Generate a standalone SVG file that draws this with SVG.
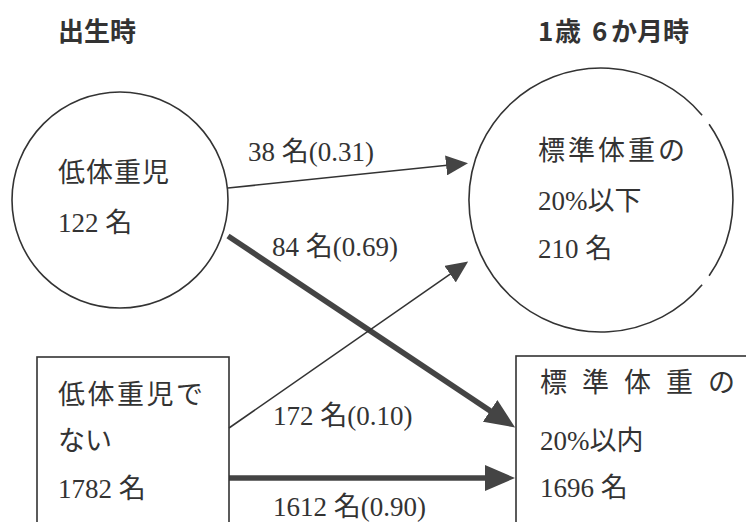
<svg xmlns="http://www.w3.org/2000/svg" width="746" height="522" viewBox="0 0 746 522">
<style>
.hd{font-family:"Noto Sans CJK JP","Noto Sans",sans-serif;font-weight:bold;font-size:26px;fill:#333}
.tx{font-family:"Liberation Serif","Noto Sans CJK JP",serif;font-size:27px;fill:#333}
.shape{fill:none;stroke:#333;stroke-width:1.6}
.thin{fill:none;stroke:#333;stroke-width:1.6}
.thick{fill:none;stroke:#444;stroke-width:5.5}
</style>
<defs>
<marker id="ah" markerUnits="userSpaceOnUse" viewBox="0 -10 22 20" markerWidth="22" markerHeight="20" refX="1" refY="0" orient="auto">
<path d="M0,-10 L22,0 L0,10 z" fill="#444"/>
</marker>
<marker id="ahT" markerUnits="userSpaceOnUse" viewBox="0 -13 30 26" markerWidth="30" markerHeight="26" refX="1" refY="0" orient="auto">
<path d="M0,-13 L30,0 L0,13 z" fill="#444"/>
</marker>
</defs>
<rect width="746" height="522" fill="#fff"/>
<g id="headers">
<text class="hd" x="58" y="41">出生時</text>
<text class="hd" y="41"><tspan x="538">1</tspan><tspan x="555">歳</tspan><tspan x="592">6</tspan><tspan x="611">か月時</tspan></text>
</g>
<g id="connectors">
<line class="thin" x1="228" y1="188" x2="447.1" y2="165.3" marker-end="url(#ah)"/>
<line class="thick" x1="228" y1="236" x2="491" y2="411.4" marker-end="url(#ahT)"/>
<line class="thin" x1="229" y1="428" x2="450.9" y2="273.6" marker-end="url(#ah)"/>
<line class="thick" x1="229" y1="478" x2="486" y2="478" marker-end="url(#ahT)"/>
<text class="tx" x="248" y="161">38 名(0.31)</text>
<text class="tx" x="272" y="256">84 名(0.69)</text>
<text class="tx" x="273" y="425">172 名(0.10)</text>
<text class="tx" x="273" y="516">1612 名(0.90)</text>
</g>
<g id="node-lbw">
<circle class="shape" cx="120" cy="200" r="108"/>
<text class="tx" x="58" y="182" letter-spacing="1">低体重児</text>
<text class="tx" x="58" y="232">122 名</text>
</g>
<g id="node-under20">
<path class="shape" d="M702.1,115.2 A132,132 0 1 0 702.1,284.8"/>
<path class="shape" d="M709.1,124.3 A132,132 0 0 1 709.1,275.7"/>
<text class="tx" y="160"><tspan x="538">標</tspan><tspan x="568">準</tspan><tspan x="598">体</tspan><tspan x="628">重</tspan><tspan x="658">の</tspan></text>
<text class="tx" x="538" y="210">20%以下</text>
<text class="tx" x="538" y="258">210 名</text>
</g>
<g id="node-notlbw">
<rect class="shape" x="37" y="357" width="192" height="180"/>
<text class="tx" y="404"><tspan x="58">低</tspan><tspan x="87.5">体</tspan><tspan x="117">重</tspan><tspan x="146.5">児</tspan><tspan x="176">で</tspan></text>
<text class="tx" x="58" y="450">ない</text>
<text class="tx" x="58" y="498">1782 名</text>
</g>
<g id="node-within20">
<rect class="shape" x="516" y="356" width="250" height="180"/>
<text class="tx" y="392"><tspan x="540">標</tspan><tspan x="582">準</tspan><tspan x="624">体</tspan><tspan x="666">重</tspan><tspan x="708">の</tspan></text>
<text class="tx" x="540" y="450">20%以内</text>
<text class="tx" x="540" y="497">1696 名</text>
</g>
</svg>
